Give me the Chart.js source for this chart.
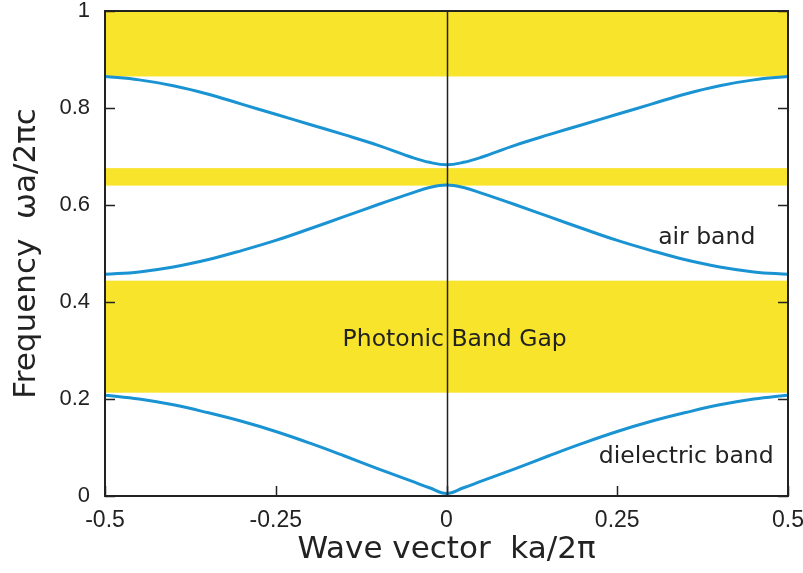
<!DOCTYPE html>
<html>
<head>
<meta charset="utf-8">
<script src="https://cdn.jsdelivr.net/npm/chart.js@4"></script>
<style>
  html, body { margin: 0; padding: 0; background: #fff; }
  #wrap { width: 803px; height: 573px; }
</style>
</head>
<body>
<div id="wrap"><canvas id="myChart" width="803" height="573"></canvas></div>
<script>
// wave vector samples (ka/2pi)
const kValues = [-0.5, -0.45, -0.4, -0.35, -0.3, -0.25, -0.2, -0.15, -0.1, -0.05, -0.025, 0,
                 0.025, 0.05, 0.1, 0.15, 0.2, 0.25, 0.3, 0.35, 0.4, 0.45, 0.5];
// frequencies (wa/2pic)
const dielectricBand = [0.208, 0.200, 0.188, 0.172, 0.154, 0.133, 0.109, 0.083, 0.056, 0.030, 0.017, 0.005,
                        0.017, 0.030, 0.056, 0.083, 0.109, 0.133, 0.154, 0.172, 0.188, 0.200, 0.208];
const airBand = [0.457, 0.462, 0.472, 0.487, 0.506, 0.527, 0.551, 0.576, 0.601, 0.625, 0.636, 0.641,
                 0.636, 0.625, 0.601, 0.576, 0.551, 0.527, 0.506, 0.487, 0.472, 0.462, 0.457];
const thirdBand = [0.865, 0.858, 0.846, 0.829, 0.808, 0.787, 0.766, 0.745, 0.723, 0.698, 0.688, 0.683,
                   0.688, 0.698, 0.723, 0.745, 0.766, 0.787, 0.808, 0.829, 0.846, 0.858, 0.865];
// band gaps (yellow)
const gapLower = [0.213, 0.640, 0.865];
const gapUpper = [0.444, 0.676, 1.0];
const xTicks = [-0.5, -0.25, 0, 0.25, 0.5];
const yTicks = [0, 0.2, 0.4, 0.6, 0.8, 1];
const labels = [
  { text: 'Photonic Band Gap', k: 0.012, w: 0.322 },
  { text: 'air band', k: 0.381, w: 0.532 },
  { text: 'dielectric band', k: 0.351, w: 0.080 }
];

const LINE = '#1a93d3';
const GAP = '#f8e42a';
const INK = '#222';
const tickFont = "'Liberation Sans', Arial, sans-serif";
const textFont = "'DejaVu Sans', sans-serif";

function pts(ys) {
  return kValues.map(function (k, i) { return { x: k, y: ys[i] }; });
}
function band(ys) {
  return {
    data: pts(ys), showLine: true, borderColor: LINE, borderWidth: 3,
    pointRadius: 0, tension: 0.4, fill: false
  };
}

const frame = {
  id: 'frame',
  beforeDatasetsDraw: function (chart) {
    var c = chart.ctx, a = chart.chartArea, y = chart.scales.y;
    c.save();
    c.fillStyle = GAP;
    for (var i = 0; i < gapLower.length; i++) {
      var top = y.getPixelForValue(gapUpper[i]);
      var bot = y.getPixelForValue(gapLower[i]);
      c.fillRect(a.left, top, a.right - a.left, bot - top);
    }
    c.restore();
  },
  afterDatasetsDraw: function (chart) {
    var c = chart.ctx, a = chart.chartArea, x = chart.scales.x, y = chart.scales.y;
    c.save();
    c.strokeStyle = INK;
    // centre line k = 0
    c.lineWidth = 1.5;
    var x0 = Math.round(x.getPixelForValue(0)) + 0.5;
    c.beginPath(); c.moveTo(x0, a.top); c.lineTo(x0, a.bottom); c.stroke();
    // ticks
    c.beginPath();
    yTicks.forEach(function (v) {
      var py = Math.round(y.getPixelForValue(v)) + 0.5;
      c.moveTo(a.left, py); c.lineTo(a.left + 10, py);
      c.moveTo(a.right, py); c.lineTo(a.right - 10, py);
    });
    xTicks.forEach(function (v) {
      var px = Math.round(x.getPixelForValue(v)) + 0.5;
      c.moveTo(px, a.bottom); c.lineTo(px, a.bottom - 10);
    });
    c.stroke();
    // frame
    c.lineWidth = 2;
    c.strokeRect(a.left, a.top, a.right - a.left, a.bottom - a.top);
    // annotations
    c.fillStyle = INK;
    c.font = '23.5px ' + textFont;
    c.textAlign = 'center';
    c.textBaseline = 'middle';
    labels.forEach(function (l) {
      c.fillText(l.text, x.getPixelForValue(l.k), y.getPixelForValue(l.w));
    });
    c.restore();
  }
};

const config = {
  type: 'scatter',
  data: { datasets: [band(dielectricBand), band(airBand), band(thirdBand)] },
  options: {
    responsive: false,
    animation: false,
    layout: { padding: { left: 0, right: 15, top: 11, bottom: 0 } },
    plugins: { legend: { display: false }, tooltip: { enabled: false } },
    scales: {
      x: {
        type: 'linear', min: -0.5, max: 0.5,
        afterBuildTicks: function (s) { s.ticks = xTicks.map(function (v) { return { value: v }; }); },
        afterFit: function (s) { s.height = 77; s.paddingLeft = 0; s.paddingRight = 0; },
        grid: { display: false, drawTicks: false }, border: { display: false },
        ticks: { color: INK, font: { family: tickFont, size: 23 }, padding: 11, maxRotation: 0,
                 callback: function (v) { return String(v); } },
        title: { display: true, text: 'Wave vector  ka/2π', color: INK,
                 font: { family: textFont, size: 31 }, padding: { top: 0 } }
      },
      y: {
        type: 'linear', min: 0, max: 1,
        afterBuildTicks: function (s) { s.ticks = yTicks.map(function (v) { return { value: v }; }); },
        afterFit: function (s) { s.width = 105; s.paddingTop = 0; s.paddingBottom = 0; },
        grid: { display: false, drawTicks: false }, border: { display: false },
        ticks: { color: INK, font: { family: tickFont, size: 22 }, padding: 15,
                 callback: function (v) { return String(v); } },
        title: { display: true, text: 'Frequency  ωa/2πc', color: INK,
                 font: { family: textFont, size: 31 }, padding: { top: 8, bottom: 0 } }
      }
    }
  },
  plugins: [frame]
};

new Chart(document.getElementById('myChart'), config);
</script>
</body>
</html>
